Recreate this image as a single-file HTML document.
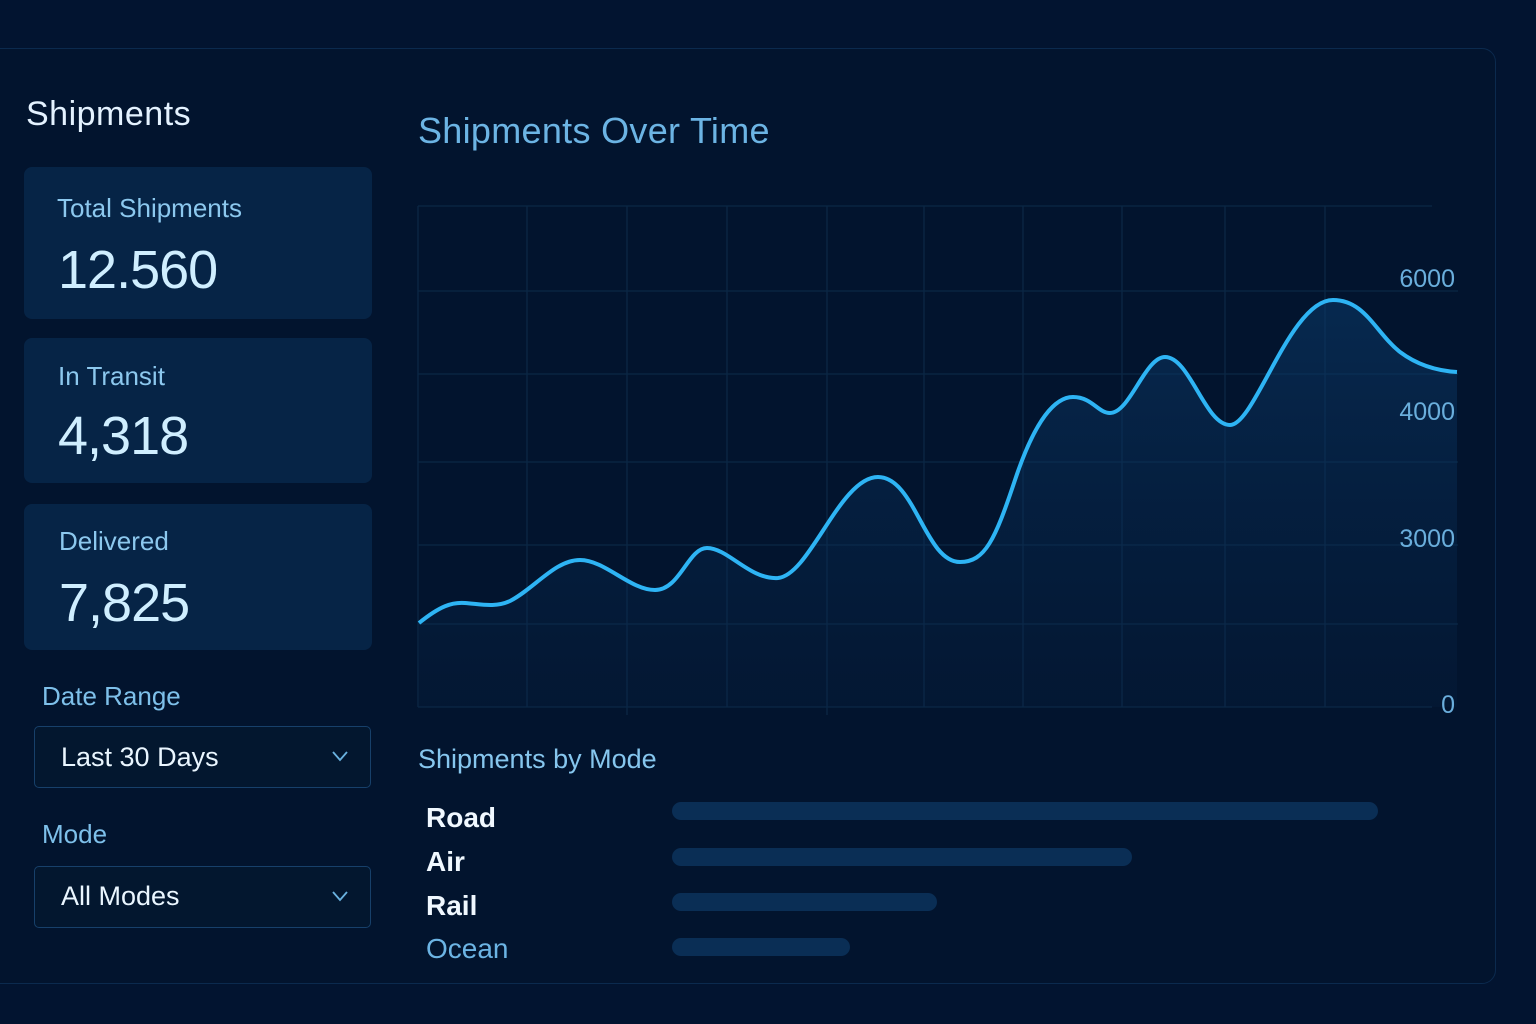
<!DOCTYPE html>
<html><head><meta charset="utf-8"><style>
*{margin:0;padding:0;box-sizing:border-box}
body{width:1536px;height:1024px;background:#021430;font-family:"Liberation Sans",sans-serif;position:relative;overflow:hidden}
.panel{position:absolute;left:-20px;top:48px;width:1516px;height:936px;border:1.5px solid #0b2a4e;border-radius:14px;background:#02142e}
.t{position:absolute;white-space:nowrap}
.card{position:absolute;left:24px;width:348px;background:#062446;border-radius:8px}
.sel{position:absolute;left:34px;width:337px;height:62px;border:1.5px solid #17406a;border-radius:5px;background:#03172f}
.bar{position:absolute;left:672px;height:18px;border-radius:9px;background:#0a2e55}
.big{font-size:54px;color:#cfeeff;letter-spacing:-1px}
</style></head><body>
<div class="panel"></div>
<div class="t" style="left:26px;top:95px;font-size:34px;color:#e4f2ff;letter-spacing:0.5px">Shipments</div>
<div class="card" style="top:167px;height:152px"></div>
<div class="t" style="left:57px;top:193px;font-size:26px;color:#8cc8ee">Total Shipments</div>
<div class="t big" style="left:58px;top:239px">12.560</div>
<div class="card" style="top:338px;height:145px"></div>
<div class="t" style="left:58px;top:361px;font-size:26px;color:#8cc8ee">In Transit</div>
<div class="t big" style="left:58px;top:405px">4,318</div>
<div class="card" style="top:504px;height:146px"></div>
<div class="t" style="left:59px;top:526px;font-size:26px;color:#8cc8ee">Delivered</div>
<div class="t big" style="left:59px;top:572px">7,825</div>
<div class="t" style="left:42px;top:681px;font-size:26px;color:#7ec0ea">Date Range</div>
<div class="sel" style="top:726px"></div>
<div class="t" style="left:61px;top:742px;font-size:27px;color:#eaf6ff">Last 30 Days</div>
<div class="t" style="left:42px;top:819px;font-size:26px;color:#7ec0ea">Mode</div>
<div class="sel" style="top:866px"></div>
<div class="t" style="left:61px;top:881px;font-size:27px;color:#eaf6ff">All Modes</div>
<svg style="position:absolute;left:0;top:0" width="1536" height="1024">
<polyline points="333,752 340,760 347,752" fill="none" stroke="#6ab2e0" stroke-width="1.8"/>
<polyline points="333,892 340,900 347,892" fill="none" stroke="#6ab2e0" stroke-width="1.8"/>
<defs><linearGradient id="g" x1="0" y1="0" x2="0" y2="1"><stop offset="0" stop-color="#0a3a6a" stop-opacity="0.55"/><stop offset="1" stop-color="#0a2a50" stop-opacity="0.15"/></linearGradient></defs>
<g stroke="#0b2745" stroke-width="1.3">
<line x1="418" y1="206" x2="1432" y2="206"/><line x1="418" y1="291" x2="1458" y2="291"/><line x1="418" y1="374" x2="1458" y2="374"/><line x1="418" y1="462" x2="1458" y2="462"/><line x1="418" y1="545" x2="1458" y2="545"/><line x1="418" y1="624" x2="1458" y2="624"/><line x1="418" y1="707" x2="1432" y2="707"/>
<line x1="418" y1="206" x2="418" y2="707"/><line x1="527" y1="206" x2="527" y2="707"/><line x1="627" y1="206" x2="627" y2="715"/><line x1="727" y1="206" x2="727" y2="707"/><line x1="827" y1="206" x2="827" y2="715"/><line x1="924" y1="206" x2="924" y2="707"/><line x1="1023" y1="206" x2="1023" y2="707"/><line x1="1122" y1="206" x2="1122" y2="707"/><line x1="1225" y1="206" x2="1225" y2="707"/><line x1="1325" y1="206" x2="1325" y2="707"/>
</g>
<path id="c" d="M419,623 C440,606 452,602 465,603 C480,604 495,608 510,601 C535,588 555,560 580,560 C605,560 630,590 655,590 C680,590 688,548 707,548 C728,548 750,580 778,578 C810,575 840,477 878,477 C915,477 925,562 960,562 C985,562 995,540 1015,480 C1035,420 1055,397 1073,397 C1092,397 1098,413 1110,413 C1130,413 1145,357 1165,357 C1190,357 1205,425 1230,425 C1255,425 1290,300 1333,300 C1365,300 1375,332 1400,352 C1420,367 1440,371 1457,372" fill="none"/>
<path d="M419,623 C440,606 452,602 465,603 C480,604 495,608 510,601 C535,588 555,560 580,560 C605,560 630,590 655,590 C680,590 688,548 707,548 C728,548 750,580 778,578 C810,575 840,477 878,477 C915,477 925,562 960,562 C985,562 995,540 1015,480 C1035,420 1055,397 1073,397 C1092,397 1098,413 1110,413 C1130,413 1145,357 1165,357 C1190,357 1205,425 1230,425 C1255,425 1290,300 1333,300 C1365,300 1375,332 1400,352 C1420,367 1440,371 1457,372 L1457,707 L419,707Z" fill="url(#g)"/>
<use href="#c" stroke="#2eb4f4" stroke-width="4"/>
<text x="1455" y="287" font-size="25" fill="#6aaedc" text-anchor="end" font-family="Liberation Sans">6000</text>
<text x="1455" y="420" font-size="25" fill="#6aaedc" text-anchor="end" font-family="Liberation Sans">4000</text>
<text x="1455" y="547" font-size="25" fill="#6aaedc" text-anchor="end" font-family="Liberation Sans">3000</text>
<text x="1455" y="713" font-size="25" fill="#6aaedc" text-anchor="end" font-family="Liberation Sans">0</text>
</svg>
<div class="t" style="left:418px;top:110px;font-size:36px;color:#6cb4e4;letter-spacing:0.3px">Shipments Over Time</div>
<div class="t" style="left:418px;top:744px;font-size:27px;color:#86c6ee">Shipments by Mode</div>
<div class="t" style="left:426px;top:802px;font-size:28px;color:#f0f8ff;font-weight:bold">Road</div>
<div class="t" style="left:426px;top:846px;font-size:28px;color:#f0f8ff;font-weight:bold">Air</div>
<div class="t" style="left:426px;top:890px;font-size:28px;color:#f0f8ff;font-weight:bold">Rail</div>
<div class="t" style="left:426px;top:933px;font-size:28px;color:#6cb4e4">Ocean</div>
<div class="bar" style="top:802px;width:706px"></div>
<div class="bar" style="top:848px;width:460px"></div>
<div class="bar" style="top:893px;width:265px"></div>
<div class="bar" style="top:938px;width:178px"></div>
</body></html>
